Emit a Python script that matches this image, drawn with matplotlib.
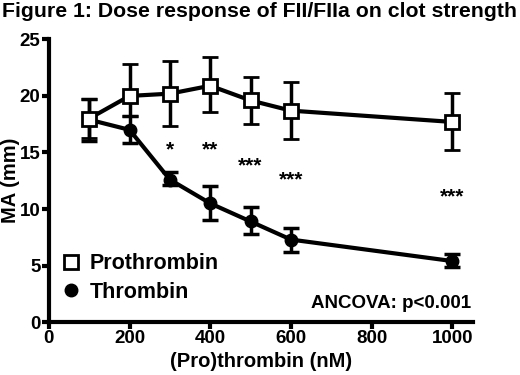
import numpy as np
import matplotlib
matplotlib.use('Agg')
import matplotlib.pyplot as plt
from matplotlib.lines import Line2D

plt.rcParams['font.family'] = ['Liberation Sans', 'DejaVu Sans']
plt.rcParams['font.weight'] = 'bold'

conc = [100, 200, 300, 400, 500, 600, 1000]

# prothrombin (FII) MA values and error bar ends
pro_ma = [18.0, 20.0, 20.2, 20.9, 19.6, 18.7, 17.7]
pro_lo = [16.3, 18.2, 17.3, 18.6, 17.5, 16.2, 15.2]
pro_hi = [19.7, 22.8, 23.1, 23.4, 21.7, 21.2, 20.3]

# thrombin (FIIa)
thr_ma = [17.9, 17.0, 12.6, 10.5, 8.9, 7.3, 5.4]
thr_lo = [16.0, 15.8, 12.1, 9.0, 7.8, 6.2, 4.9]
thr_hi = [19.7, 18.2, 13.3, 12.0, 10.2, 8.35, 6.0]

# significance stars
star_x = [300, 400, 500, 600, 1000]
star_y = [15.2, 15.2, 13.8, 12.6, 11.1]
star_txt = ['*', '**', '***', '***', '***']

fig = plt.figure(figsize=(5.2, 3.75), dpi=100)
ax = fig.add_axes([0.094, 0.141, 0.816, 0.754])

pro_err = [np.array(pro_ma) - np.array(pro_lo), np.array(pro_hi) - np.array(pro_ma)]
thr_err = [np.array(thr_ma) - np.array(thr_lo), np.array(thr_hi) - np.array(thr_ma)]

ax.errorbar(conc, thr_ma, yerr=thr_err, color='black', lw=3, marker='o', ms=9,
            mfc='black', mec='black', capsize=6, capthick=2.5, elinewidth=2.5,
            zorder=3)
ax.errorbar(conc, pro_ma, yerr=pro_err, color='black', lw=3, marker='s', ms=10,
            mfc='white', mec='black', mew=2, capsize=6, capthick=2.5, elinewidth=2.5,
            zorder=4)

for x, y, t in zip(star_x, star_y, star_txt):
    ax.text(x, y, t, ha='center', va='center', fontsize=15, fontweight='bold')

ax.set_xlim(0, 1052)
ax.set_ylim(0, 25)
ax.set_xticks([0, 200, 400, 600, 800, 1000])
ax.set_yticks([0, 5, 10, 15, 20, 25])
for s in ['top', 'right']:
    ax.spines[s].set_visible(False)
for s in ['left', 'bottom']:
    ax.spines[s].set_linewidth(3)
ax.tick_params(width=3, length=5, labelsize=13.5, pad=1)
for lbl in ax.get_xticklabels() + ax.get_yticklabels():
    lbl.set_fontweight('bold')

ax.set_xlabel('(Pro)thrombin (nM)', fontsize=14.5, fontweight='bold', labelpad=3)
ax.set_ylabel('MA (mm)', fontsize=14.5, fontweight='bold', labelpad=0)

handles = [Line2D([], [], ls='none', marker='s', ms=10, mfc='white', mec='black', mew=2),
           Line2D([], [], ls='none', marker='o', ms=9, mfc='black', mec='black')]
ax.legend(handles, ['Prothrombin', 'Thrombin'], loc='lower left',
          bbox_to_anchor=(-0.015, 0.0), frameon=False, handlelength=0.8,
          handletextpad=0.5, labelspacing=0.35, prop={'weight': 'bold', 'size': 15.5})

ax.text(0.995, 0.035, 'ANCOVA: p<0.001', transform=ax.transAxes, ha='right',
        va='bottom', fontsize=13.5, fontweight='bold')

fig.text(0.004, 0.995, 'Figure 1: Dose response of FII/FIIa on clot strength',
         ha='left', va='top', fontsize=15.3, fontweight='bold')

fig.savefig('out.png', dpi=100)
